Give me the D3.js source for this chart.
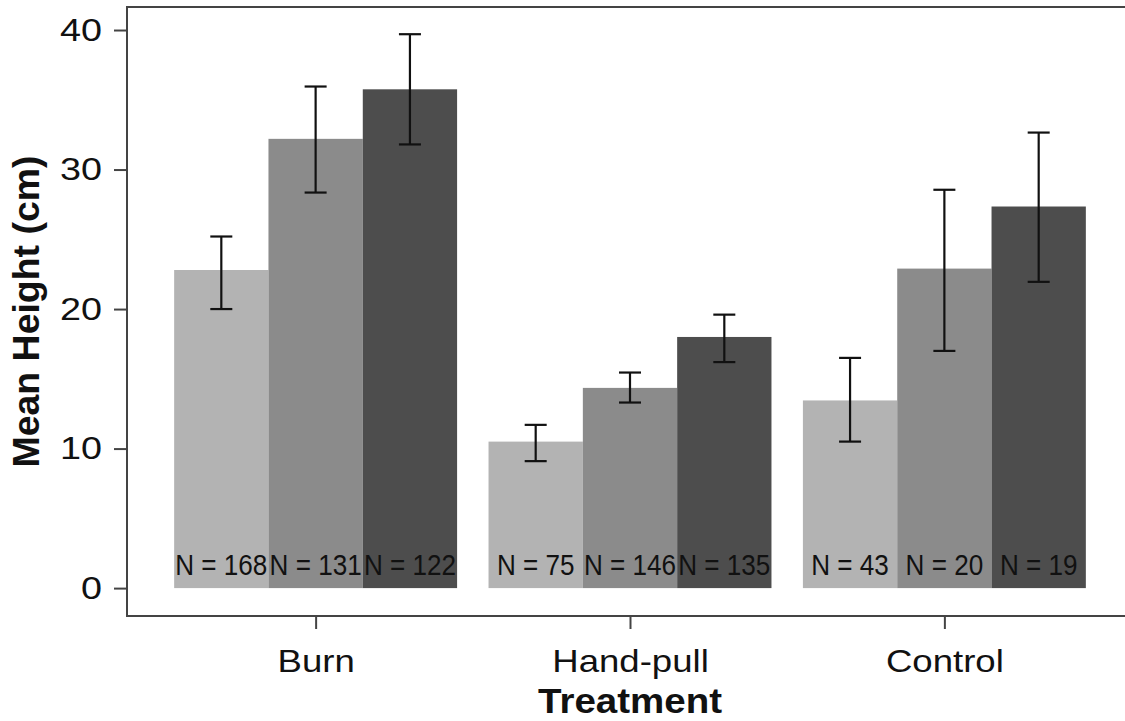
<!DOCTYPE html>
<html>
<head>
<meta charset="utf-8">
<script src="https://cdn.jsdelivr.net/npm/d3@7"></script>
<style>
  html, body { margin: 0; padding: 0; background: #fff; overflow: hidden; }
  svg { display: block; overflow: hidden; }
  text { font-family: "Liberation Sans", Arial, sans-serif; }
</style>
</head>
<body>
<svg id="chart" width="1125" height="721"></svg>
<script>
// Mean plant height by treatment, three bars per treatment
const treatments = ["Burn", "Hand-pull", "Control"];
const subgroups = ["a", "b", "c"];
const meanHeight = [
  [22.8, 32.2, 35.75],   // Burn
  [10.5, 14.35, 18.0],   // Hand-pull
  [13.45, 22.9, 27.35]   // Control
];
const errLow = [
  [20.0, 28.35, 31.8],
  [9.1, 13.3, 16.2],
  [10.5, 17.0, 21.95]
];
const errHigh = [
  [25.2, 35.95, 39.7],
  [11.7, 15.45, 19.6],
  [16.5, 28.55, 32.65]
];
const sampleN = [
  [168, 131, 122],
  [75, 146, 135],
  [43, 20, 19]
];
const yTicks = [0, 10, 20, 30, 40];
const fills = ["#b3b3b3", "#8b8b8b", "#4d4d4d"];

const svg = d3.select("#chart");
const panel = { left: 127, top: 7, right: 1133, bottom: 616 };

// categorical x: groups at 1..3, limits 0.4..3.6, dodge width 0.9
const x = d3.scaleLinear().domain([0.4, 3.6]).range([panel.left, panel.right]);
const y = d3.scaleLinear().domain([-2.0, 41.65]).range([panel.bottom, panel.top]);
const dodge = 0.9;
const barW = dodge / subgroups.length;

const rows = [];
treatments.forEach((t, i) => {
  subgroups.forEach((s, j) => {
    const xc = (i + 1) - dodge / 2 + barW * (j + 0.5);
    rows.push({ t, j, xc, mean: meanHeight[i][j], lo: errLow[i][j], hi: errHigh[i][j], n: sampleN[i][j] });
  });
});

// bars
svg.append("g").selectAll("rect").data(rows).join("rect")
  .attr("x", d => x(d.xc - barW / 2))
  .attr("width", d => x(d.xc + barW / 2) - x(d.xc - barW / 2))
  .attr("y", d => y(d.mean))
  .attr("height", d => y(0) - y(d.mean))
  .attr("fill", d => fills[d.j]);

// error bars
const capHalf = 0.035;
const eb = svg.append("g").attr("stroke", "#111").attr("stroke-width", 2.2).attr("fill", "none");
rows.forEach(d => {
  eb.append("line").attr("x1", x(d.xc)).attr("x2", x(d.xc)).attr("y1", y(d.lo)).attr("y2", y(d.hi));
  eb.append("line").attr("x1", x(d.xc - capHalf)).attr("x2", x(d.xc + capHalf)).attr("y1", y(d.lo)).attr("y2", y(d.lo));
  eb.append("line").attr("x1", x(d.xc - capHalf)).attr("x2", x(d.xc + capHalf)).attr("y1", y(d.hi)).attr("y2", y(d.hi));
});

// sample size labels (slightly condensed type)
svg.append("g").selectAll("text").data(rows).join("text")
  .attr("transform", d => `translate(${x(d.xc)},${y(1.7)}) scale(0.9,1)`)
  .attr("dy", "0.36em")
  .attr("text-anchor", "middle")
  .attr("font-size", 29)
  .attr("fill", "#111")
  .text(d => "N = " + d.n);

// panel frame: left, top and bottom edges, running off the right side
const frame = svg.append("g").attr("stroke", "#444").attr("stroke-width", 2).attr("fill", "none");
frame.append("path")
  .attr("d", `M${panel.right + 20},${panel.top}H${panel.left}V${panel.bottom}H${panel.right + 20}`);

// y axis
const ySx = 1.18;
const yAxis = svg.append("g").attr("transform", `translate(${panel.left},0)`)
  .call(d3.axisLeft(y).tickValues(yTicks).tickSize(13).tickPadding(12));
yAxis.select(".domain").remove();
yAxis.selectAll(".tick line").attr("stroke", "#444").attr("stroke-width", 2);
yAxis.selectAll(".tick text")
  .attr("font-size", 32).attr("fill", "#111")
  .attr("font-family", "Liberation Sans, Arial, sans-serif")
  .attr("x", -25 / ySx)
  .attr("transform", `scale(${ySx},1)`);

// x axis
const xSx = 1.18;
const xAxis = svg.append("g").attr("transform", `translate(0,${panel.bottom})`)
  .call(d3.axisBottom(x).tickValues([1, 2, 3]).tickFormat(d => treatments[d - 1]).tickSize(13).tickPadding(10));
xAxis.select(".domain").remove();
xAxis.selectAll(".tick line").attr("stroke", "#444").attr("stroke-width", 2);
xAxis.selectAll(".tick text")
  .attr("font-size", 31).attr("fill", "#111")
  .attr("font-family", "Liberation Sans, Arial, sans-serif")
  .attr("y", null).attr("dy", null)
  .attr("transform", `translate(0,56) scale(${xSx},1)`);

// axis titles
svg.append("text")
  .attr("transform", `translate(${x(2)},713) scale(1.1,1)`)
  .attr("text-anchor", "middle")
  .attr("font-size", 35).attr("font-weight", "bold").attr("fill", "#111")
  .text("Treatment");

svg.append("text")
  .attr("transform", `translate(39,${(panel.top + panel.bottom) / 2}) rotate(-90) scale(1.04,1)`)
  .attr("text-anchor", "middle")
  .attr("font-size", 36).attr("font-weight", "bold").attr("fill", "#111")
  .text("Mean Height (cm)");
</script>
</body>
</html>
